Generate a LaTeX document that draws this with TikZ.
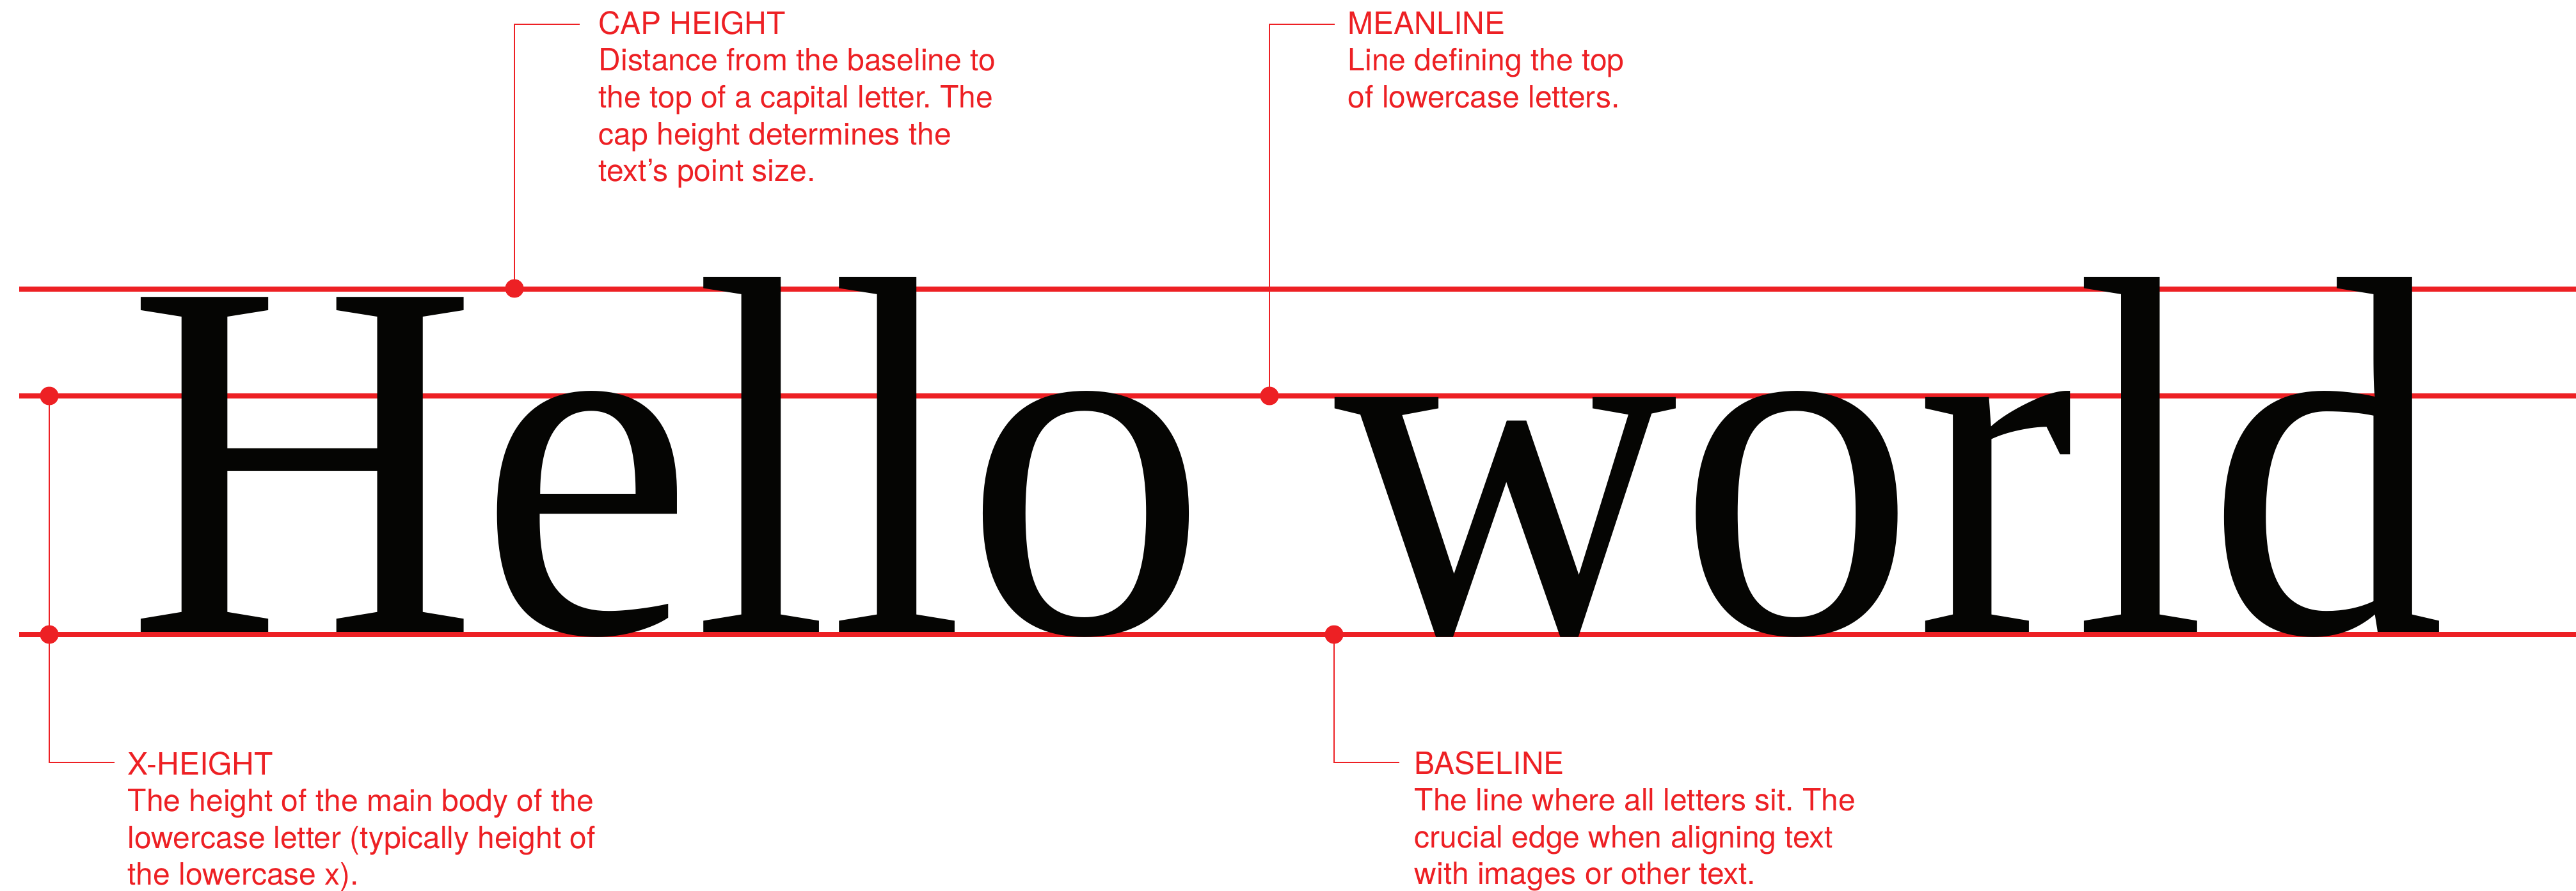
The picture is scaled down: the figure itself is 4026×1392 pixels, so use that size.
\documentclass[tikz,border=0pt]{standalone}
\usepackage{fontspec}
\usepackage{graphicx}
\setmainfont{TeX Gyre Heros}
\newfontfamily\wordfont{Liberation Serif}
\definecolor{tred}{RGB}{237,32,36}
\definecolor{ink}{RGB}{5,5,3}
\frenchspacing
\begin{document}
\begin{tikzpicture}[x=0.25pt,y=-0.25pt,
  mainline/.style={draw=tred,line width=2pt},
  leader/.style={draw=tred,line width=0.7pt},
  dot/.style={circle,fill=tred,inner sep=0pt,minimum size=7.25pt},
  lbl/.style={anchor=base west,inner sep=0pt,text=tred},
  word/.style={anchor=base west,inner sep=0pt,text=ink,font=\wordfont\fontsize{200pt}{200pt}\selectfont}]
\useasboundingbox (0,0) rectangle (4026,1392);

% guide lines
\coordinate (capL) at (30,452);  \coordinate (capR) at (4030,452);
\coordinate (meanL) at (30,619); \coordinate (meanR) at (4030,619);
\coordinate (baseL) at (30,992); \coordinate (baseR) at (4030,992);
\draw[mainline] (capL) -- (capR);
\draw[mainline] (meanL) -- (meanR);
\draw[mainline] (baseL) -- (baseR);

% specimen text
\node[word] (hello) at (198,988) {\scalebox{0.95}[1]{Hello}};
\node[word] (world) at (2085,988) {\scalebox{0.93}[1]{world}};

% dots
\node[dot] (capdot) at (804,451) {};
\node[dot] (meandot) at (1984,619) {};
\node[dot] (xtop) at (77,619) {};
\node[dot] (xbot) at (77,992) {};
\node[dot] (basedot) at (2085,992) {};

% leaders
\coordinate (capend) at (906,38);
\coordinate (meanend) at (2086,38);
\coordinate (xend) at (179,1192);
\coordinate (baseend) at (2187,1192);
\draw[leader] (capdot.center) |- (capend);
\draw[leader] (meandot.center) |- (meanend);
\draw[leader] (xtop.center) |- (xend);
\draw[leader] (basedot.center) |- (baseend);

% labels
\node[lbl] (caplbl) at (935,53.3) {\parbox[t]{300pt}{\fontsize{12pt}{14.4pt}\selectfont
CAP HEIGHT\\Distance from the baseline to\\the top of a capital letter. The\\cap height determines the\\text’s point size.}};
\node[lbl] (meanlbl) at (2106,53.3) {\parbox[t]{300pt}{\fontsize{12pt}{14.4pt}\selectfont
MEANLINE\\Line defining the top\\of lowercase letters.}};
\node[lbl] (xlbl) at (199,1211) {\parbox[t]{300pt}{\fontsize{12pt}{14.4pt}\selectfont
X-HEIGHT\\The height of the main body of the\\lowercase letter (typically height of\\the lowercase x).}};
\node[lbl] (baselbl) at (2210,1210) {\parbox[t]{300pt}{\fontsize{12pt}{14.4pt}\selectfont
BASELINE\\The line where all letters sit. The\\crucial edge when aligning text\\with images or other text.}};
\end{tikzpicture}
\end{document}
